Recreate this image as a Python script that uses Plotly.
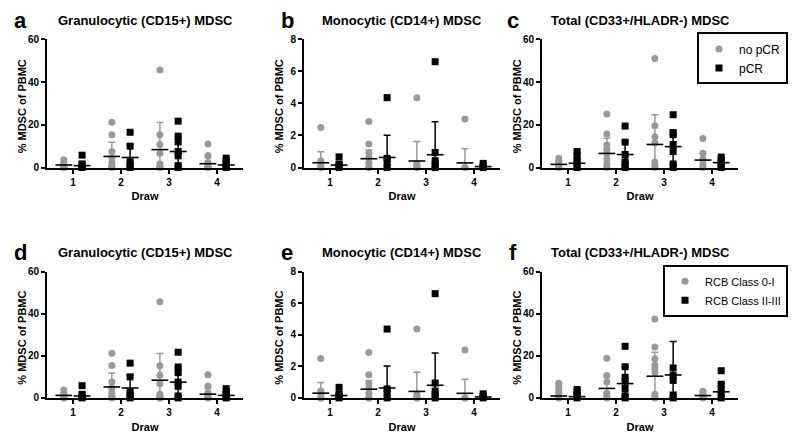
import plotly.graph_objects as go

draws = [1, 2, 3, 4]
tick_labels = ["1", "2", "3", "4"]
titles = ["Granulocytic (CD15+) MDSC", "Monocytic (CD14+) MDSC", "Total (CD33+/HLADR-) MDSC",
          "Granulocytic (CD15+) MDSC", "Monocytic (CD14+) MDSC", "Total (CD33+/HLADR-) MDSC"]
letters = ["a", "b", "c", "d", "e", "f"]
y_title = "% MDSC of PBMC"
x_title = "Draw"
top_groups = ["no pCR", "pCR"]
bottom_groups = ["RCB Class 0-I", "RCB Class II-III"]

# Granulocytic (panels a, d)
gran_gray = [[3.7, 1.7, 1.0, 0.5, 0.2, 0.0, 0.0],
             [21.2, 15.4, 7.5, 4.7, 2.4, 1.0, 0.3, 0.0],
             [45.6, 15.3, 10.8, 6.7, 1.7, 0.5, 0.0, 0.0],
             [11.0, 5.6, 2.4, 1.0, 0.3, 0.0, 0.0]]
gran_black = [[5.8, 1.7, 0.5, 0.0],
              [16.5, 10.0, 2.7, 1.4, 0.0],
              [21.7, 14.7, 12.0, 7.5, 5.5, 0.9, 0.0],
              [4.4, 3.0, 1.7, 0.5, 0.0]]
gran_gray_mean = [1.2, 5.2, 8.4, 1.8]
gran_gray_sd = [1.2, 6.6, 12.7, 2.7]
gran_black_mean = [0.9, 4.7, 7.5, 1.2]
gran_black_sd = [1.7, 6.1, 7.2, 1.5]

# Monocytic (panels b, e)
mono_gray = [[2.5, 0.43, 0.2, 0.0, 0.0],
             [2.87, 1.47, 0.9, 0.63, 0.3, 0.0, 0.0],
             [4.36, 0.22, 0.1, 0.0, 0.0],
             [3.03, 0.0, 0.0]]
mono_black = [[0.67, 0.22, 0.1, 0.0],
              [4.36, 0.57, 0.33, 0.0],
              [6.6, 0.94, 0.43, 0.2, 0.0],
              [0.26, 0.1, 0.0]]
mono_gray_mean = [0.3, 0.55, 0.41, 0.29]
mono_gray_sd = [0.68, 0.55, 1.22, 0.89]
mono_black_mean = [0.15, 0.63, 0.8, 0.06]
mono_black_sd = [0.15, 1.39, 2.05, 0.09]

# Total, pCR (panel c)
tot_gray = [[4.3, 2.9, 1.7, 0.5, 0.0],
            [25.0, 15.7, 10.5, 8.5, 6.6, 4.0, 1.7, 0.0],
            [51.0, 19.5, 14.4, 11.6, 2.6, 1.0, 0.0],
            [13.6, 6.7, 4.0, 1.7, 0.0]]
tot_black = [[7.5, 5.5, 3.2, 1.7, 0.0],
             [19.4, 11.9, 6.1, 2.7, 1.4, 0.0],
             [24.7, 16.2, 15.4, 10.8, 7.5, 1.7, 0.0],
             [4.9, 3.5, 1.7, 0.8, 0.0]]
tot_gray_mean = [1.5, 6.6, 10.8, 3.5]
tot_gray_sd = [1.5, 7.1, 13.9, 3.0]
tot_black_mean = [2.0, 6.1, 9.8, 2.3]
tot_black_sd = [2.0, 6.1, 7.8, 1.4]

# Total, RCB (panel f)
rcb_gray = [[6.9, 5.4, 3.7, 2.2, 1.1, 0.0],
            [18.8, 10.6, 7.5, 2.2, 1.0, 0.0],
            [37.5, 24.2, 18.6, 15.5, 14.0, 12.2, 1.7, 0.8, 0.0],
            [3.2, 2.2, 1.4, 0.7, 0.0]]
rcb_black = [[4.0, 2.9, 1.4, 0.0],
             [24.5, 14.8, 9.8, 8.0, 4.5, 1.0, 0.0],
             [50.8, 14.2, 10.6, 8.3, 1.4, 0.0],
             [12.9, 6.5, 4.0, 2.2, 0.0]]
rcb_gray_mean = [0.9, 4.5, 10.3, 1.1]
rcb_gray_sd = [1.9, 5.3, 11.4, 1.1]
rcb_black_mean = [0.6, 6.8, 10.9, 2.9]
rcb_black_sd = [1.6, 8.0, 15.9, 3.9]

panels = [
    (gran_gray, gran_black, gran_gray_mean, gran_gray_sd, gran_black_mean, gran_black_sd, 60, 20),
    (mono_gray, mono_black, mono_gray_mean, mono_gray_sd, mono_black_mean, mono_black_sd, 8, 2),
    (tot_gray, tot_black, tot_gray_mean, tot_gray_sd, tot_black_mean, tot_black_sd, 60, 20),
    (gran_gray, gran_black, gran_gray_mean, gran_gray_sd, gran_black_mean, gran_black_sd, 60, 20),
    (mono_gray, mono_black, mono_gray_mean, mono_gray_sd, mono_black_mean, mono_black_sd, 8, 2),
    (rcb_gray, rcb_black, rcb_gray_mean, rcb_gray_sd, rcb_black_mean, rcb_black_sd, 60, 20),
]

GRAY = "#999999"
BLACK = "#000000"
FONT = "Arial, Liberation Sans, sans-serif"
# The page body has an 8px default margin, so the figure is made smaller and
# page-pixel positions are converted to paper fractions with that offset.
PAGE_OFF = 8
W, H = 800 - 2 * PAGE_OFF, 443 - 2 * PAGE_OFF
OFF = 0.19


def px(xp):
    return (xp - PAGE_OFF) / W


def py(yp):
    return 1 - (yp - PAGE_OFF) / H


col_px = [(47, 243), (304, 500), (542, 738)]
row_px = [(34, 166), (273, 403)]

fig = go.Figure()
layout = dict(width=W, height=H, margin=dict(l=0, r=0, t=0, b=0),
              paper_bgcolor="white", plot_bgcolor="white",
              font=dict(family=FONT, color="black"))
annotations = []

for i, (g, b, gm, gs, bm, bs, ymax, dt) in enumerate(panels):
    r, c = divmod(i, 3)
    n = "" if i == 0 else str(i + 1)
    xa, ya = "x" + n, "y" + n
    x0, x1 = col_px[c]
    ytop, ybot = row_px[r]
    layout["xaxis" + n] = dict(domain=[px(x0), px(x1)], range=[0.46, 4.54], anchor=ya,
                               tickvals=draws, ticktext=tick_labels, showline=True,
                               linecolor="black", linewidth=2, ticks="outside", ticklen=4,
                               tickwidth=2, tickcolor="black", showgrid=False, zeroline=False,
                               tickfont=dict(size=10, family=FONT, weight="bold"),
                               title=dict(text=x_title, font=dict(size=11, family=FONT, weight="bold"),
                                          standoff=6))
    layout["yaxis" + n] = dict(domain=[py(ybot), py(ytop)], range=[0, ymax],
                               dtick=dt, anchor=xa, showline=True, linecolor="black", linewidth=2,
                               ticks="outside", ticklen=4, tickwidth=2, tickcolor="black",
                               showgrid=False, zeroline=False,
                               tickfont=dict(size=10, family=FONT, weight="bold"))
    groups = top_groups if r == 0 else bottom_groups
    leg = "legend" if i == 2 else ("legend2" if i == 5 else None)
    for vals, color, sym, name, off in [(g, GRAY, "circle", groups[0], -OFF),
                                        (b, BLACK, "square", groups[1], OFF)]:
        xs, ys = [], []
        for d, v in zip(draws, vals):
            xs += [d + off] * len(v)
            ys += v
        fig.add_trace(go.Scatter(x=xs, y=ys, mode="markers", xaxis=xa, yaxis=ya, name=name,
                                 marker=dict(symbol=sym, size=7, color=color),
                                 cliponaxis=False, showlegend=leg is not None,
                                 legend=leg if leg else "legend"))
    for means, sds, ecolor, off in [(gm, gs, GRAY, -OFF), (bm, bs, BLACK, OFF)]:
        fig.add_trace(go.Scatter(x=[d + off for d in draws], y=means, mode="markers",
                                 xaxis=xa, yaxis=ya, showlegend=False, cliponaxis=False,
                                 marker=dict(symbol="line-ew", size=12,
                                             line=dict(color="black", width=1.6)),
                                 error_y=dict(type="data", array=sds,
                                              arrayminus=[min(s, m) for s, m in zip(sds, means)],
                                              color=ecolor, thickness=1.5, width=3.5)))
    ty = 15 if r == 0 else 253
    annotations.append(dict(text=titles[i], x=px((x0 + x1) / 2), y=py(ty), xref="paper",
                            yref="paper", showarrow=False, xanchor="center", yanchor="middle",
                            font=dict(size=13, family=FONT, weight="bold")))
    lx = [20, 287, 513][c]
    annotations.append(dict(text=letters[i], x=px(lx), y=py(ty), xref="paper", yref="paper",
                            showarrow=False, xanchor="center", yanchor="middle",
                            font=dict(size=22, family=FONT, weight="bold")))
    annotations.append(dict(text=y_title, x=px(x0 - 25), y=py((ytop + ybot) / 2 + 3),
                            xref="paper", yref="paper", showarrow=False, textangle=-90,
                            xanchor="center", yanchor="middle",
                            font=dict(size=11, family=FONT, weight="bold")))

layout["annotations"] = annotations
leg_common = dict(bordercolor="black", borderwidth=2, bgcolor="white",
                  xanchor="right", yanchor="top", itemwidth=30,
                  itemsizing="trace", tracegroupgap=0)
layout["legend"] = dict(x=px(788), y=py(27), font=dict(size=12, family=FONT), **leg_common)
layout["legend2"] = dict(x=px(788), y=py(266), font=dict(size=11, family=FONT), **leg_common)
fig.update_layout(**layout)
fig.write_html("out.html")
